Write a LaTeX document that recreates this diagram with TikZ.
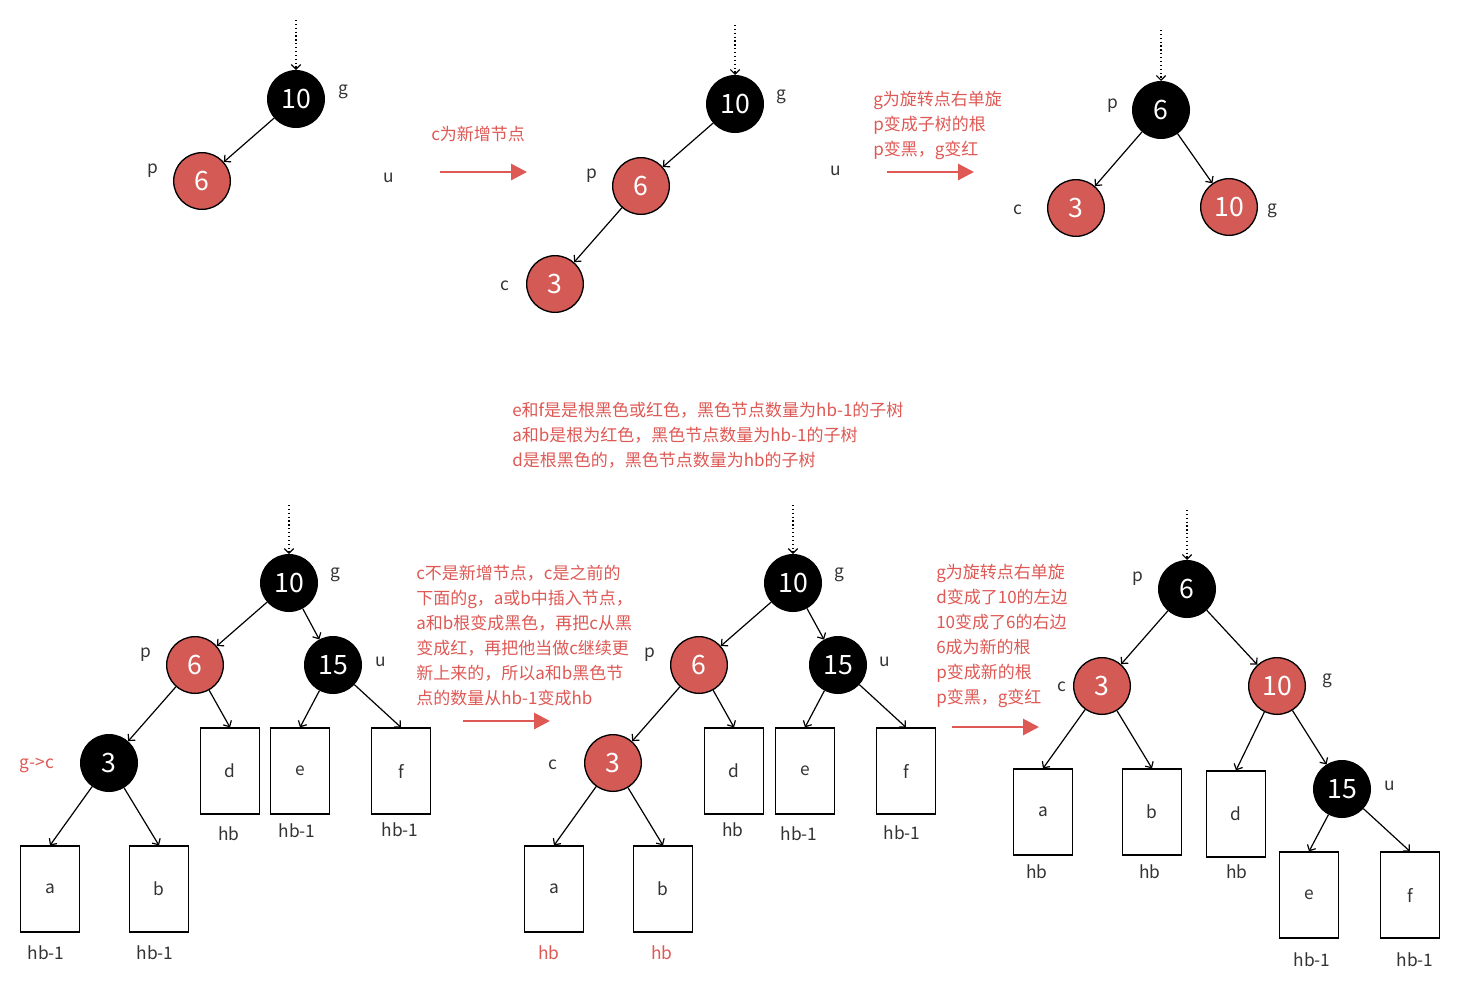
\documentclass[tikz,border=0pt]{standalone}
\usepackage{fontspec}
\setmainfont{Noto Sans CJK SC}
\usetikzlibrary{positioning,arrows.meta}
\definecolor{nodered}{RGB}{212,90,86}
\definecolor{notered}{RGB}{222,88,84}
\definecolor{labgray}{RGB}{51,51,51}

\begin{document}
\begin{tikzpicture}[x=0.75pt,y=-0.75pt,>={Straight Barb[length=3.5pt,width=7pt]}]
  \tikzstyle{bk}=[circle,draw,line width=1pt,fill=black,text=white,minimum size=42.5pt,inner sep=0pt,font=\fontsize{20}{20}\selectfont]
  \tikzstyle{rd}=[bk,fill=nodered]
  \tikzstyle{sub}=[draw,line width=0.9pt,minimum width=44.25pt,minimum height=64.5pt,inner sep=0pt,text=labgray,font=\fontsize{13}{13}\selectfont]
  \tikzstyle{lb}=[text=labgray,inner sep=0pt,font=\fontsize{13}{13}\selectfont]
  \tikzstyle{rlb}=[lb,text=notered]
  \tikzstyle{note}=[text=notered,align=left,anchor=west,inner sep=0pt,font=\fontsize{12.75}{18.75}\selectfont]
  \tikzstyle{edge}=[->,line width=0.9pt]
  \tikzstyle{entry}=[->,dotted,line width=0.9pt]
  \tikzstyle{go}=[-{Triangle[length=12pt,width=12pt]},line width=2.2pt,draw=notered]
  \useasboundingbox (0,0) rectangle (1478,983);

  % top: c inserted below p
  \coordinate (tA) at (296,20);
  \node[bk] (gA) at (296,99) {10};
  \node[rd] (pA) at (202,181) {6};
  \node[lb] (lgA) at (343,92) {g};
  \node[lb] (lpA) at (153,171) {p};
  \node[lb] (luA) at (389,178) {u};
  \draw[entry] (tA) -- (gA);
  \draw[edge] (gA) -- (pA);

  \node[note] (nA) at (431,134) {c为新增节点};
  \coordinate (sA) at (440,172);
  \coordinate (eA) at (527,172);
  \draw[go] (sA) -- (eA);

  \coordinate (tB) at (735,25);
  \node[bk] (gB) at (735,104) {10};
  \node[rd] (pB) at (641,186) {6};
  \node[rd] (cB) at (555,284) {3};
  \node[lb] (lgB) at (781,97) {g};
  \node[lb] (lpB) at (592,176) {p};
  \node[lb] (lcB) at (505,286) {c};
  \node[lb] (luB) at (836,171) {u};
  \draw[entry] (tB) -- (gB);
  \draw[edge] (gB) -- (pB);
  \draw[edge] (pB) -- (cB);

  \node[note] (nB) at (873,125.5) {g为旋转点右单旋\\p变成子树的根\\p变黑，g变红};
  \coordinate (sB) at (887,172);
  \coordinate (eB) at (974,172);
  \draw[go] (sB) -- (eB);

  \coordinate (tC) at (1161,30);
  \node[bk] (pC) at (1161,110) {6};
  \node[rd] (cC) at (1076,208) {3};
  \node[rd] (gC) at (1229,207) {10};
  \node[lb] (lpC) at (1113,106) {p};
  \node[lb] (lcC) at (1018,210) {c};
  \node[lb] (lgC) at (1272,211) {g};
  \draw[entry] (tC) -- (pC);
  \draw[edge] (pC) -- (cC);
  \draw[edge] (pC) -- (gC);

  \node[note] (nM) at (512,435) {e和f是是根黑色或红色，黑色节点数量为hb-1的子树\\a和b是根为红色，黑色节点数量为hb-1的子树\\d是根黑色的，黑色节点数量为hb的子树};

  % bottom: recolouring, then rotation
  \coordinate (tD) at (289,505);
  \node[bk] (gD) at (289,583) {10};
  \node[rd] (pD) at (195,665) {6};
  \node[bk] (uD) at (333,665) {15};
  \node[bk] (cD) at (109,763) {3};
  \node[sub] (aD) at (50,889) {a};
  \node[sub] (bD) at (159,889) {b};
  \node[sub] (dD) at (230,771) {d};
  \node[sub] (eD) at (300,771) {e};
  \node[sub] (fD) at (401,771) {f};
  \node[lb] (haD) at (46,953) {hb-1};
  \node[lb] (hbD) at (155,953) {hb-1};
  \node[lb] (hdD) at (229,834) {hb};
  \node[lb] (heD) at (297,831) {hb-1};
  \node[lb] (hfD) at (400,830) {hb-1};
  \node[lb] (lgD) at (335,575) {g};
  \node[lb] (lpD) at (146,655) {p};
  \node[lb] (luD) at (381,662) {u};
  \node[rlb] (lcD) at (37,765) {g->c};
  \draw[entry] (tD) -- (gD);
  \draw[edge] (gD) -- (pD);
  \draw[edge] (gD) -- (uD);
  \draw[edge] (pD) -- (cD);
  \draw[edge] (pD) -- (dD.north);
  \draw[edge] (uD) -- (eD.north);
  \draw[edge] (uD) -- (fD.north);
  \draw[edge] (cD) -- (aD.north);
  \draw[edge] (cD) -- (bD.north);

  \node[note] (nD) at (416,635.5) {c不是新增节点，c是之前的\\下面的g，a或b中插入节点，\\a和b根变成黑色，再把c从黑\\变成红，再把他当做c继续更\\新上来的，所以a和b黑色节\\点的数量从hb-1变成hb};
  \coordinate (sD) at (463,721);
  \coordinate (eD2) at (550,721);
  \draw[go] (sD) -- (eD2);

  \coordinate (tE) at (793,505);
  \node[bk] (gE) at (793,583) {10};
  \node[rd] (pE) at (699,665) {6};
  \node[bk] (uE) at (838,665) {15};
  \node[rd] (cE) at (613,763) {3};
  \node[sub] (aE) at (554,889) {a};
  \node[sub] (bE) at (663,889) {b};
  \node[sub] (dE) at (734,771) {d};
  \node[sub] (eE) at (805,771) {e};
  \node[sub] (fE) at (906,771) {f};
  \node[rlb] (haE) at (549,953) {hb};
  \node[rlb] (hbE) at (662,953) {hb};
  \node[lb] (hdE) at (733,830) {hb};
  \node[lb] (heE) at (799,834) {hb-1};
  \node[lb] (hfE) at (902,833) {hb-1};
  \node[lb] (lgE) at (839,575) {g};
  \node[lb] (lpE) at (650,655) {p};
  \node[lb] (luE) at (885,662) {u};
  \node[lb] (lcE) at (553,765) {c};
  \draw[entry] (tE) -- (gE);
  \draw[edge] (gE) -- (pE);
  \draw[edge] (gE) -- (uE);
  \draw[edge] (pE) -- (cE);
  \draw[edge] (pE) -- (dE.north);
  \draw[edge] (uE) -- (eE.north);
  \draw[edge] (uE) -- (fE.north);
  \draw[edge] (cE) -- (aE.north);
  \draw[edge] (cE) -- (bE.north);

  \node[note] (nE) at (936,636) {g为旋转点右单旋\\d变成了10的左边\\10变成了6的右边\\6成为新的根\\p变成新的根\\p变黑，g变红};
  \coordinate (sE) at (952,727);
  \coordinate (eE2) at (1039,727);
  \draw[go] (sE) -- (eE2);

  \coordinate (tF) at (1187,510);
  \node[bk] (pF) at (1187,589) {6};
  \node[rd] (cF) at (1102,686) {3};
  \node[rd] (gF) at (1277,686) {10};
  \node[bk] (uF) at (1342,789) {15};
  \node[sub] (aF) at (1043,812) {a};
  \node[sub] (bF) at (1152,812) {b};
  \node[sub] (dF) at (1236,814) {d};
  \node[sub] (eF) at (1309,895) {e};
  \node[sub] (fF) at (1410,895) {f};
  \node[lb] (haF) at (1037,872) {hb};
  \node[lb] (hbF) at (1150,872) {hb};
  \node[lb] (hdF) at (1237,872) {hb};
  \node[lb] (heF) at (1312,960) {hb-1};
  \node[lb] (hfF) at (1415,960) {hb-1};
  \node[lb] (lpF) at (1138,579) {p};
  \node[lb] (lcF) at (1062,687) {c};
  \node[lb] (lgF) at (1327,681) {g};
  \node[lb] (luF) at (1390,786) {u};
  \draw[entry] (tF) -- (pF);
  \draw[edge] (pF) -- (cF);
  \draw[edge] (pF) -- (gF);
  \draw[edge] (cF) -- (aF.north);
  \draw[edge] (cF) -- (bF.north);
  \draw[edge] (gF) -- (dF.north);
  \draw[edge] (gF) -- (uF);
  \draw[edge] (uF) -- (eF.north);
  \draw[edge] (uF) -- (fF.north);
\end{tikzpicture}
\end{document}
